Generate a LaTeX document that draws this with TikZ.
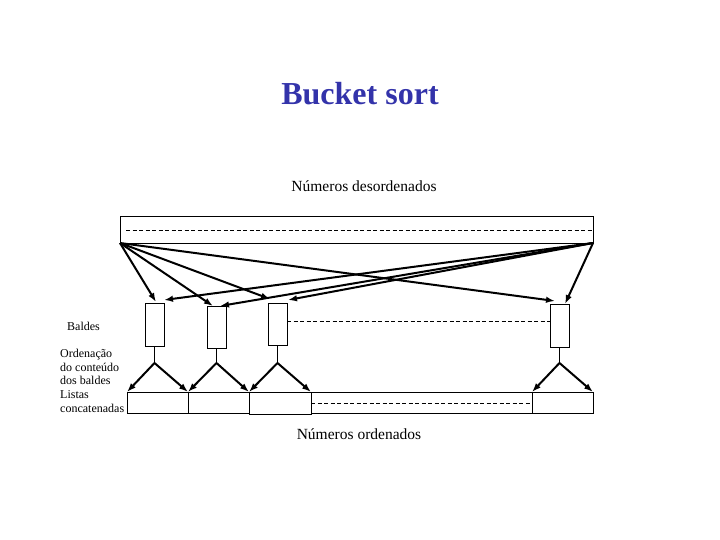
\documentclass[tikz,border=0pt]{standalone}
\usepackage{fontspec}
\setmainfont{Liberation Serif}
\usetikzlibrary{arrows.meta,calc}
\definecolor{titleblue}{RGB}{51,51,170}
\begin{document}
\begin{tikzpicture}[x=1pt,y=-1pt,
  box/.style={draw, line width=0.9pt, inner sep=0pt, outer sep=0pt, anchor=north west},
  arr/.style={-{Latex[length=9pt,width=6.5pt]}, line width=2pt},
  dline/.style={dash pattern=on 4pt off 2.5pt, line width=0.9pt},
  stem/.style={line width=0.9pt},
  lbl/.style={anchor=base west, inner sep=0pt, font=\fontsize{12}{13.7}\selectfont}]
\useasboundingbox (0,0) rectangle (720,540);

% title and captions
\node[anchor=base, inner sep=0pt, text=titleblue, font=\bfseries\fontsize{32}{36}\selectfont] (title) at (360,105) {Bucket sort};
\node[anchor=base, inner sep=0pt, font=\fontsize{15.5}{18}\selectfont] (desc) at (364,192) {Números desordenados};
\node[anchor=base, inner sep=0pt, font=\fontsize{15.5}{18}\selectfont] (ord) at (359,439) {Números ordenados};

% left labels
\node[lbl] (baldes) at (67,330) {Baldes};
\node[lbl] (l1) at (60,357.5) {Ordenação};
\node[lbl] (l2) at (60,371.2) {do conteúdo};
\node[lbl] (l3) at (60,384.9) {dos baldes};
\node[lbl] (l4) at (60,398.6) {Listas};
\node[lbl] (l5) at (60,412.3) {concatenadas};

% unsorted array
\node[box, minimum width=473pt, minimum height=27pt] (top) at (120,216) {};
\draw[dline] ([xshift=6pt,yshift=-0.5pt]top.west) -- ([yshift=-0.5pt]top.east);

% buckets
\node[box, minimum width=19pt, minimum height=43pt] (b1) at (145,303) {};
\node[box, minimum width=19pt, minimum height=42pt] (b2) at (207,306) {};
\node[box, minimum width=19pt, minimum height=42pt] (b3) at (268,303) {};
\node[box, minimum width=19pt, minimum height=43pt] (b4) at (550,304) {};
\draw[dline] (b3.east |- 0,321) -- (b4.west |- 0,321);

% distribution arrows
\draw[arr] (top.south west) -- ([xshift=1.5pt,yshift=1pt]b1.north);
\draw[arr] (top.south west) -- ([xshift=-3.5pt]b2.north);
\draw[arr] (top.south west) -- ([xshift=2pt,yshift=4pt]b3.north west);
\draw[arr] (top.south west) -- ([xshift=5pt,yshift=3pt]b4.north west);
\draw[arr] (top.south east) -- ([yshift=3pt]b1.north east);
\draw[arr] (top.south east) -- ([xshift=3.5pt]b2.north);
\draw[arr] (top.south east) -- ([xshift=1pt,yshift=3pt]b3.north east);
\draw[arr] (top.south east) -- ([xshift=5.5pt]b4.north);

% concatenated lists
\node[box, minimum width=61pt, minimum height=21pt] (la) at (127,392) {};
\node[box, minimum width=61pt, minimum height=21pt] (lb) at (188,392) {};
\node[box, minimum width=62pt, minimum height=22pt] (lc) at (249,392) {};
\node[box, minimum width=221pt, minimum height=21pt] (le) at (311,392) {};
\node[box, minimum width=61pt, minimum height=21pt] (ld) at (532,392) {};
\draw[dline] (le.west |- 0,403) -- (le.east |- 0,403);

% sorting apexes
\coordinate (a1) at (b1.south |- 0,363);
\coordinate (a2) at (b2.south |- 0,363);
\coordinate (a3) at (b3.south |- 0,363);
\coordinate (a4) at (b4.south |- 0,363);
\draw[stem] (b1.south) -- (a1);
\draw[stem] (b2.south) -- (a2);
\draw[stem] (b3.south) -- (a3);
\draw[stem] (b4.south) -- (a4);
\draw[arr] (a1) -- (la.north west);
\draw[arr] (a1) -- (la.north east);
\draw[arr] (a2) -- (lb.north west);
\draw[arr] (a2) -- (lb.north east);
\draw[arr] (a3) -- (lc.north west);
\draw[arr] (a3) -- (lc.north east);
\draw[arr] (a4) -- (ld.north west);
\draw[arr] (a4) -- (ld.north east);
\end{tikzpicture}
\end{document}
